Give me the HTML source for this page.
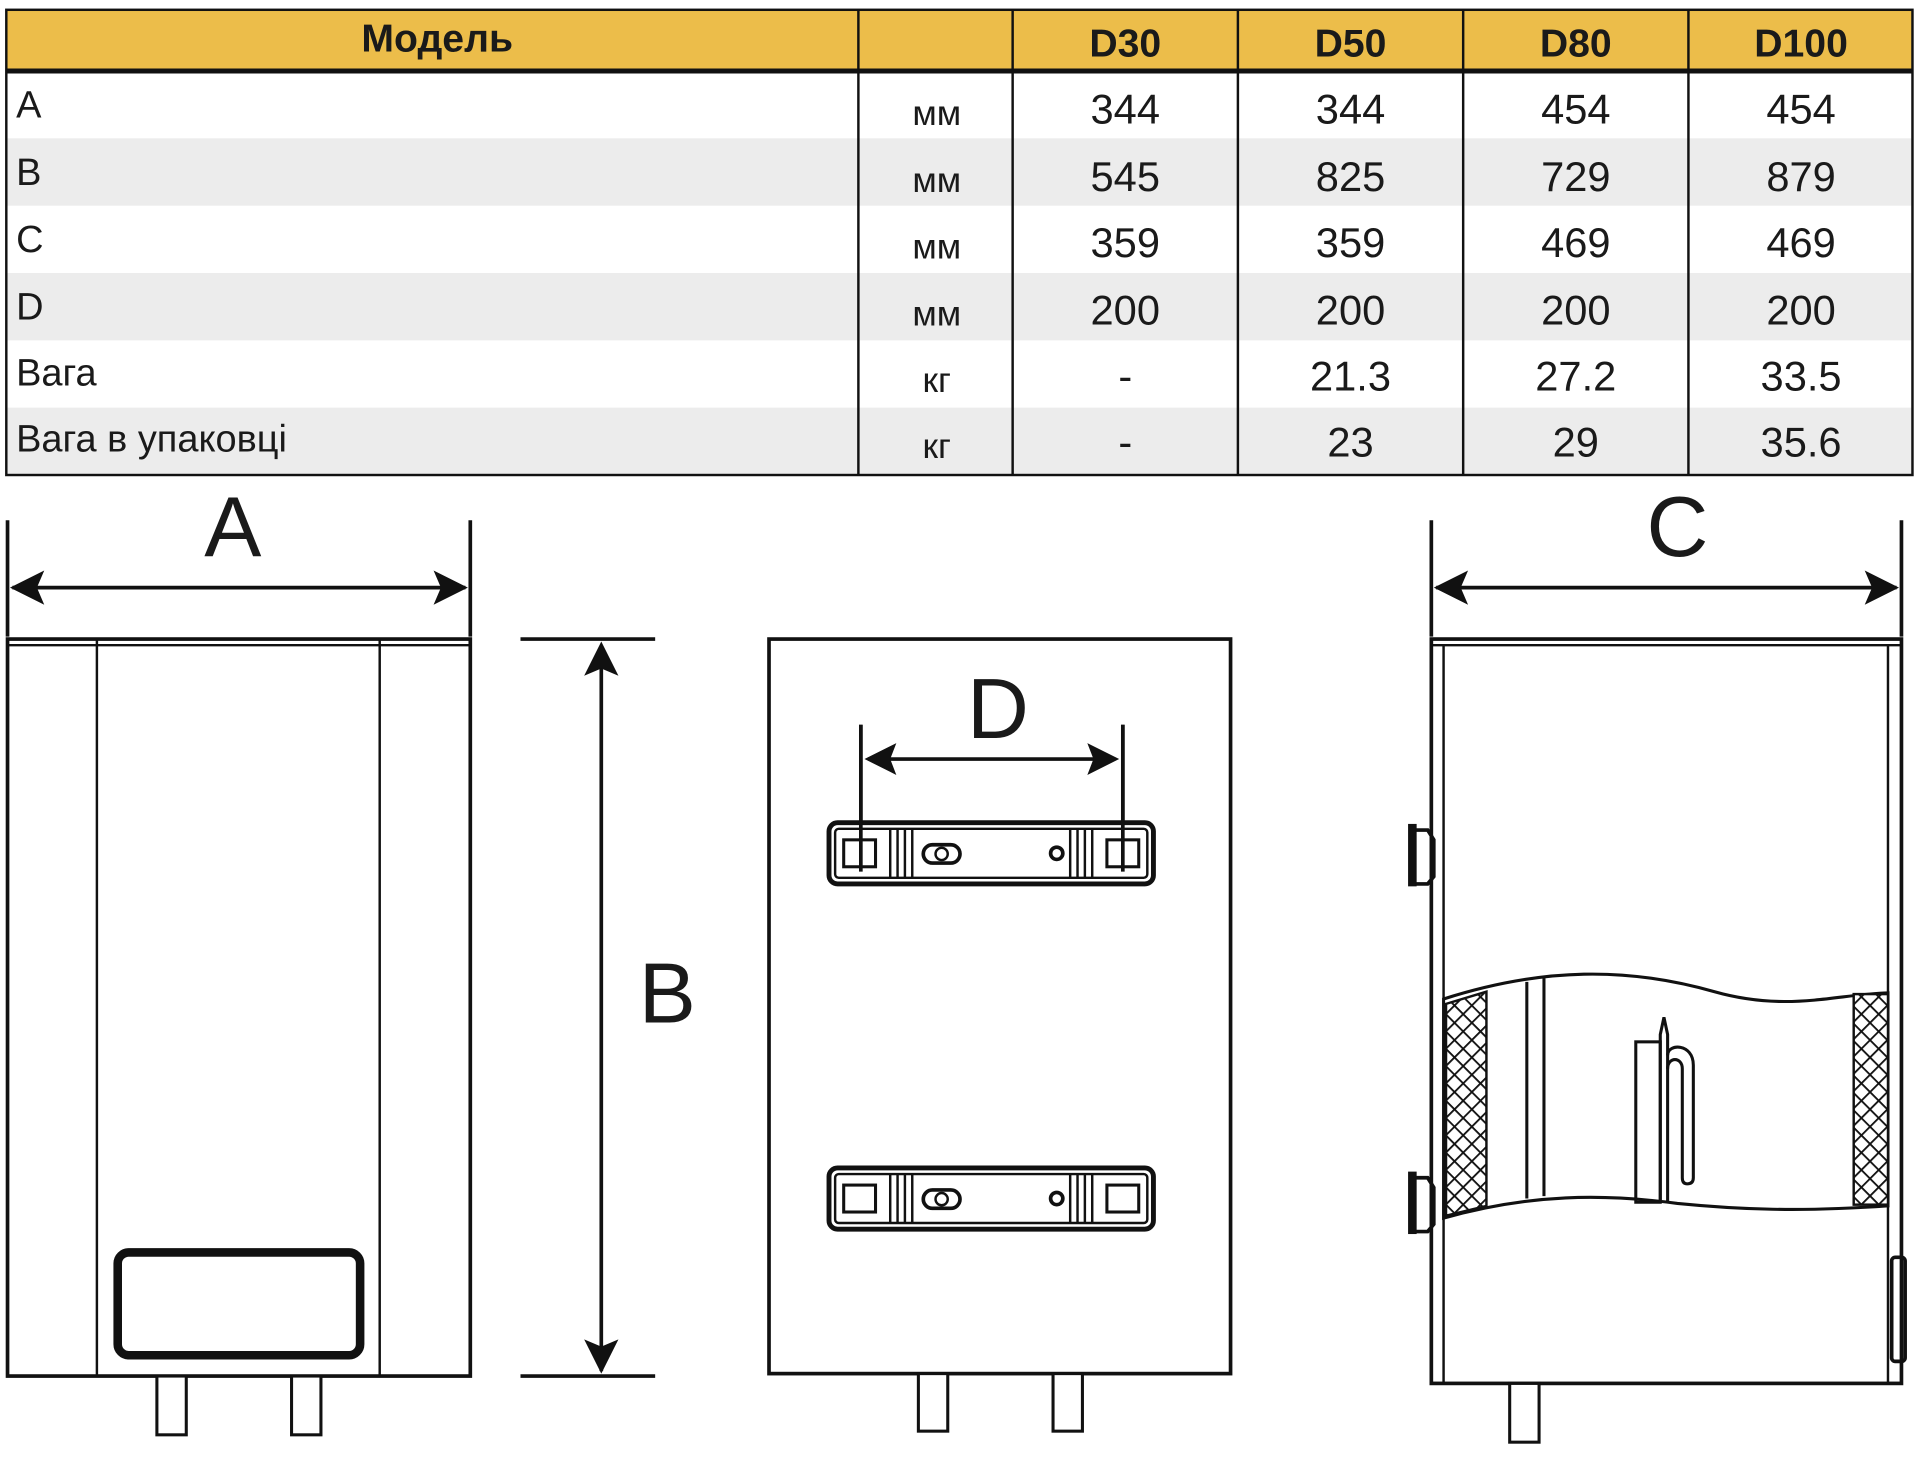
<!DOCTYPE html>
<html><head><meta charset="utf-8"><style>
html,body{margin:0;padding:0;background:#fff;width:1920px;height:1474px;overflow:hidden}
svg{display:block}
text{font-family:"Liberation Sans",sans-serif;fill:#1a1a1a}
</style></head><body>
<svg width="1920" height="1474" viewBox="0 0 1568 1204" xmlns="http://www.w3.org/2000/svg">
<defs>
<pattern id="hx" width="10" height="10" patternUnits="userSpaceOnUse" patternTransform="rotate(45)">
<rect width="10" height="10" fill="#fff"/>
<path d="M0 0H10M0 0V10" stroke="#111" stroke-width="3"/>
</pattern>
<g id="br">
<rect x="0" y="0" width="265" height="50" rx="7" fill="#fff" stroke="#111" stroke-width="4"/>
<rect x="5" y="5" width="255" height="40" rx="3" fill="none" stroke="#111" stroke-width="2"/>
<rect x="12" y="14" width="26" height="22" fill="none" stroke="#111" stroke-width="2.5"/>
<rect x="227" y="14" width="26" height="22" fill="none" stroke="#111" stroke-width="2.5"/>
<path d="M50 5V45M56 5V45M62 5V45M68 5V45M197 5V45M203 5V45M209 5V45M215 5V45" stroke="#111" stroke-width="2"/>
<rect x="77" y="18" width="30" height="15" rx="7.5" fill="none" stroke="#111" stroke-width="3"/>
<circle cx="92" cy="25.5" r="5" fill="#fff" stroke="#111" stroke-width="2"/>
<circle cx="186" cy="25" r="5" fill="none" stroke="#111" stroke-width="3"/>
</g>
</defs>
<!-- table -->
<rect x="5" y="8" width="1557" height="50" fill="#ecbd4a"/>
<rect x="5" y="113" width="1557" height="55" fill="#ececec"/>
<rect x="5" y="223" width="1557" height="55" fill="#ececec"/>
<rect x="5" y="333" width="1557" height="55" fill="#ececec"/>
<g stroke="#111" stroke-width="2" fill="none">
<rect x="5" y="8" width="1557" height="380"/>
<path d="M701 8V388M827 8V388M1011 8V388M1195 8V388M1379 8V388"/>
</g>
<path d="M5 58H1562" stroke="#111" stroke-width="4"/>
<g font-size="32" font-weight="bold" text-anchor="middle">
<text x="357" y="42">Модель</text>
<text x="919" y="46">D30</text><text x="1103" y="46">D50</text><text x="1287" y="46">D80</text><text x="1471" y="46">D100</text>
</g>
<g font-size="31">
<text x="13" y="96">A</text><text x="13" y="151">B</text><text x="13" y="206">C</text><text x="13" y="261">D</text><text x="13" y="315">Вага</text><text x="13" y="369">Вага в упаковці</text>
</g>
<g font-size="29" text-anchor="middle">
<text x="765" y="102">мм</text><text x="765" y="157">мм</text><text x="765" y="211">мм</text><text x="765" y="266">мм</text><text x="765" y="320">кг</text><text x="765" y="374">кг</text>
</g>
<g font-size="34" text-anchor="middle">
<text x="919" y="101">344</text><text x="1103" y="101">344</text><text x="1287" y="101">454</text><text x="1471" y="101">454</text>
<text x="919" y="156">545</text><text x="1103" y="156">825</text><text x="1287" y="156">729</text><text x="1471" y="156">879</text>
<text x="919" y="210">359</text><text x="1103" y="210">359</text><text x="1287" y="210">469</text><text x="1471" y="210">469</text>
<text x="919" y="265">200</text><text x="1103" y="265">200</text><text x="1287" y="265">200</text><text x="1471" y="265">200</text>
<text x="919" y="319">-</text><text x="1103" y="319">21.3</text><text x="1287" y="319">27.2</text><text x="1471" y="319">33.5</text>
<text x="919" y="373">-</text><text x="1103" y="373">23</text><text x="1287" y="373">29</text><text x="1471" y="373">35.6</text>
</g>
<!-- dimension labels -->
<g font-size="70" text-anchor="middle">
<text x="190" y="454">A</text><text x="545" y="835">B</text><text x="815" y="603">D</text><text x="1370" y="454">C</text>
</g>
<g stroke="#111" stroke-width="3" fill="none">
<!-- A -->
<path d="M6 425V520M384 425V520M10 480H380"/>
<!-- B -->
<path d="M425 522H535M425 1124H535M491 528V1120"/>
<!-- C -->
<path d="M1169 425V520M1553 425V520M1173 480H1549"/>
<!-- D -->
<path d="M703 592V700M917 592V700M709 620H911"/>
</g>
<g fill="#111">
<path d="M8 480L36 466L30 480L36 494Z"/><path d="M382 480L354 466L360 480L354 494Z"/>
<path d="M491 524L477 552L491 546L505 552Z"/><path d="M491 1122L477 1094L491 1100L505 1094Z"/>
<path d="M1171 480L1199 466L1193 480L1199 494Z"/><path d="M1551 480L1523 466L1529 480L1523 494Z"/>
<path d="M706 620L732 607L727 620L732 633Z"/><path d="M914 620L888 607L893 620L888 633Z"/>
</g>
<!-- left view -->
<g stroke="#111" fill="none">
<rect x="6" y="522" width="378" height="602" stroke-width="3"/>
<path d="M6 527H384M79 522V1124M310 522V1124" stroke-width="2"/>
<rect x="96" y="1023" width="198" height="84" rx="9" stroke-width="7"/>
<rect x="128" y="1124" width="24" height="48" stroke-width="2.5" fill="#fff"/>
<rect x="238" y="1124" width="24" height="48" stroke-width="2.5" fill="#fff"/>
</g>
<!-- middle view -->
<g stroke="#111" fill="none">
<rect x="628" y="522" width="377" height="600" stroke-width="3"/>
<rect x="750" y="1122" width="24" height="47" stroke-width="2.5" fill="#fff"/>
<rect x="860" y="1122" width="24" height="47" stroke-width="2.5" fill="#fff"/>
</g>
<use href="#br" x="677" y="672"/>
<use href="#br" x="677" y="954"/>
<path d="M703 592V712M917 592V712" stroke="#111" stroke-width="3"/>
<!-- right view -->
<g stroke="#111" fill="none">
<rect x="1169" y="522" width="384" height="608" stroke-width="3"/>
<path d="M1169 527H1553M1179 527V1130M1542 527V1130" stroke-width="2"/>
<rect x="1233" y="1130" width="24" height="48" stroke-width="2.5" fill="#fff"/>
</g>
<!-- cutaway -->
<path d="M1179 816C1260 790 1330 790 1400 810C1460 827 1500 812 1542 811L1542 985C1470 990 1420 988 1370 983C1310 975 1250 975 1179 995Z" fill="#fff" stroke="#111" stroke-width="2.5"/>
<path d="M1181 820L1214 810L1214 985L1181 993Z" fill="url(#hx)" stroke="#111" stroke-width="2"/>
<rect x="1514" y="812" width="28" height="172" fill="url(#hx)" stroke="#111" stroke-width="2"/>
<g stroke="#111" stroke-width="2.5" fill="none">
<path d="M1247 802V979M1261 799V977"/>
<rect x="1336" y="851" width="20" height="131"/>
<path d="M1356 982V845L1359 831L1362 845V983"/>
<path d="M1362 862C1362 852 1383 852 1383 870V962Q1383 967 1378 967Q1374 967 1374 962V873C1374 863 1362 863 1362 873"/>
</g>
<!-- hooks -->
<g fill="#111">
<rect x="1150" y="673" width="7" height="51"/><rect x="1150" y="957" width="7" height="51"/>
</g>
<g stroke="#111" stroke-width="3" fill="none">
<path d="M1156 678H1166L1171 686V716L1166 722H1156"/>
<path d="M1156 962H1166L1171 970V1000L1166 1006H1156"/>
<rect x="1545" y="1027" width="11" height="85" rx="3"/>
</g>
</svg>
</body></html>
